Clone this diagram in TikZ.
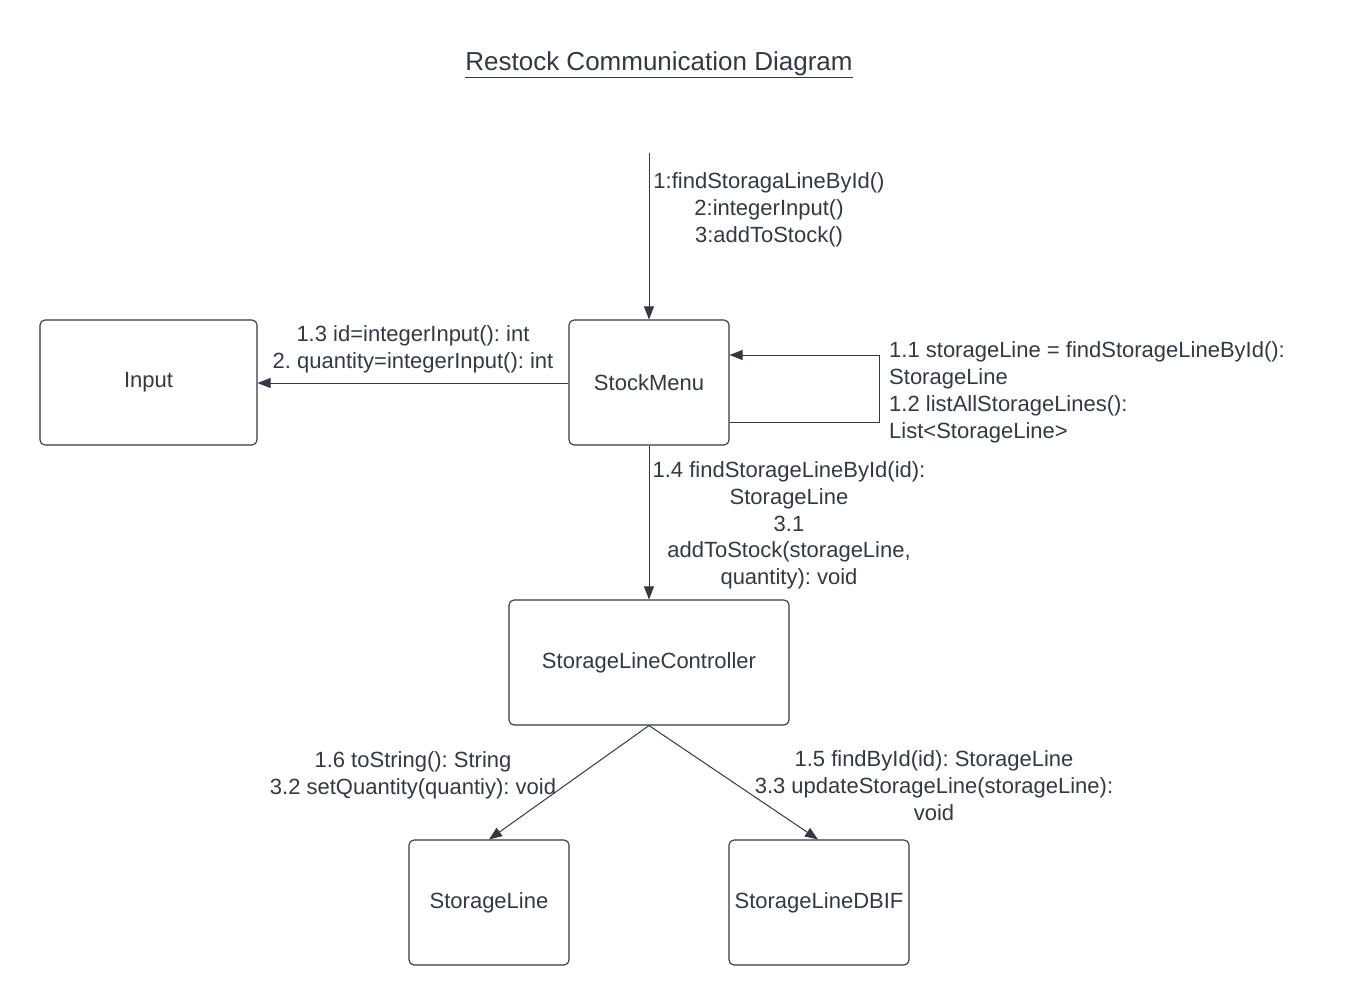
\documentclass[tikz,border=0pt]{standalone}
\usepackage{fontspec}
\setmainfont{Liberation Sans}
\usetikzlibrary{arrows.meta,calc}
\definecolor{ink}{HTML}{333842}
\frenchspacing
\begin{document}
\begin{tikzpicture}[x=1pt,y=-1pt,
  box/.style={draw=ink,line width=1.1pt,rounded corners=5pt,minimum width=#1,minimum height=125pt,inner sep=0pt,text=ink,font=\fontsize{22}{27}\selectfont},
  lbl/.style={text=ink,inner sep=0pt,font=\fontsize{22}{26.8}\selectfont},
  arr/.style={draw=ink,line width=1pt,-{Triangle[length=13pt,width=10pt]}}]
\useasboundingbox (0,0) rectangle (1349,1006);
\node[lbl,font=\fontsize{26}{30}\selectfont] (title) at (659,65) {\underline{Restock Communication Diagram}};
\node[box=217pt] (in) at (148.5,382.5) {Input};
\node[box=160pt] (sm) at (649,382.5) {StockMenu};
\node[box=280pt] (slc) at (649,662.5) {StorageLineController};
\node[box=160pt] (sl) at (489,902.5) {StorageLine};
\node[box=180pt] (db) at (819,902.5) {StorageLineDBIF};
\coordinate (start) at (649,153);
\draw[arr] (start) -- (sm.north);
\node[lbl,align=center] (l1) at (769,210) {1:findStoragaLineById()\\2:integerInput()\\3:addToStock()};
\draw[arr] ([yshift=-0.5pt]sm.west) -- ([yshift=-0.5pt]sm.west -| in.east);
\node[lbl,align=center] (l2) at (413,349) {1.3 id=integerInput(): int\\2. quantity=integerInput(): int};
\draw[arr] ([yshift=-39.5pt]sm.east) -- ++(150,0) |- ([yshift=27.5pt]sm.east);
\node[lbl,align=left,anchor=west] (l3) at (889,392.5) {1.1 storageLine = findStorageLineById():\\StorageLine\\1.2 listAllStorageLines():\\List<StorageLine>};
\draw[arr] (sm.south) -- (slc.north);
\node[lbl,align=center] (l4) at (789,525.5) {1.4 findStorageLineById(id):\\StorageLine\\3.1\\addToStock(storageLine,\\quantity): void};
\draw[arr] (slc.south) -- (sl.north);
\draw[arr] (slc.south) -- ([xshift=-1pt]db.north);
\node[lbl,align=center] (l5) at (413,775.5) {1.6 toString(): String\\3.2 setQuantity(quantiy): void};
\node[lbl,align=center] (l6) at (934,785.5) {1.5 findById(id): StorageLine\\3.3 updateStorageLine(storageLine):\\void};
\end{tikzpicture}
\end{document}
